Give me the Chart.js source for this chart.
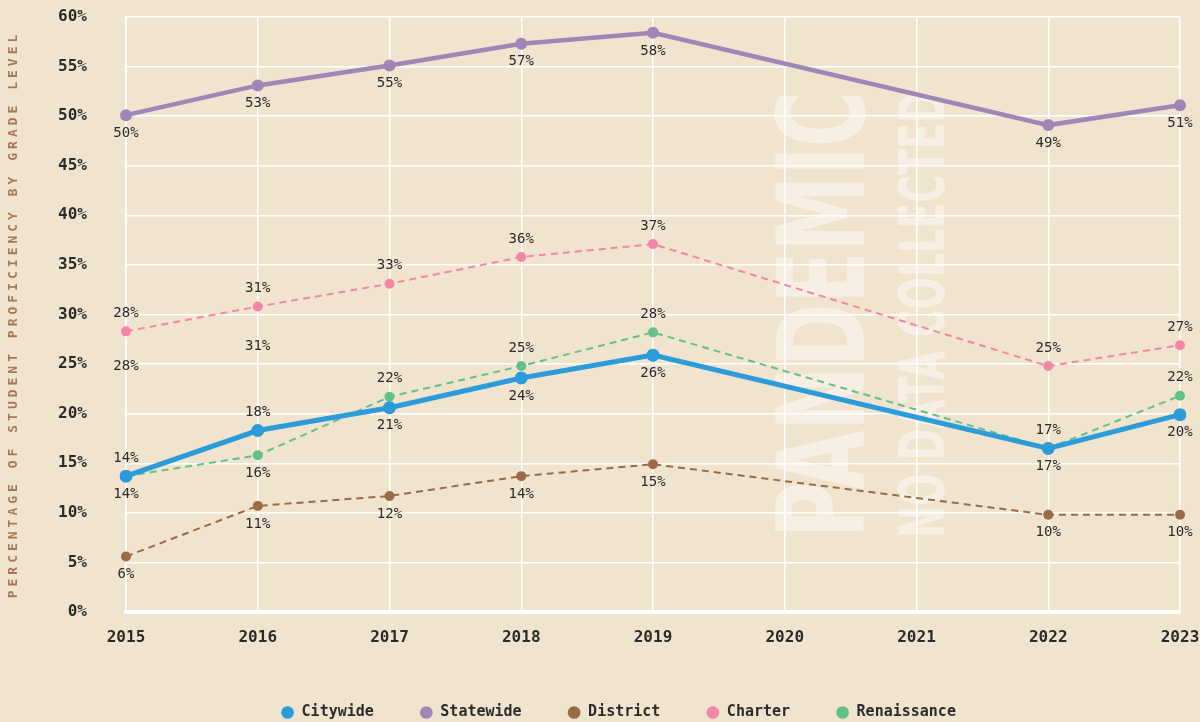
<!DOCTYPE html>
<html>
<head>
<meta charset="utf-8">
<script src="https://cdn.jsdelivr.net/npm/chart.js@4"></script>
<style>
  html, body { margin: 0; padding: 0; background: #f1e4cf; }
  #wrap { width: 1200px; height: 722px; }
</style>
</head>
<body>
<div id="wrap"><canvas id="grafico" width="1200" height="722"></canvas></div>
<script>
// anos (2020 e 2021 sem dados)
var anos = ['2015', '2016', '2017', '2018', '2019', '2020', '2021', '2022', '2023'];
var citywide    = [13.7, 18.3, 20.6, 23.6, 25.9, null, null, 16.5, 19.9];
var statewide   = [50.1, 53.1, 55.1, 57.3, 58.4, null, null, 49.1, 51.1];
var district    = [5.6, 10.7, 11.7, 13.7, 14.9, null, null, 9.8, 9.8];
var charter     = [28.3, 30.8, 33.1, 35.8, 37.1, null, null, 24.8, 26.9];
var renaissance = [13.7, 15.8, 21.7, 24.8, 28.2, null, null, 16.5, 21.8];
var yTicks = [0, 5, 10, 15, 20, 25, 30, 35, 40, 45, 50, 55, 60];

// posicao dos rotulos: 'a' acima, 'b' abaixo
var posCitywide    = ['a', 'a', 'b', 'b', 'b', '', '', 'b', 'b'];
var posStatewide   = ['b', 'b', 'b', 'b', 'b', '', '', 'b', 'b'];
var posDistrict    = ['b', 'b', 'b', 'b', 'b', '', '', 'b', 'b'];
var posCharter     = ['a', 'a', 'a', 'a', 'a', '', '', 'a', 'a'];
var posRenaissance = ['b', 'b', 'a', 'a', 'a', '', '', 'a', 'a'];
// rotulos repetidos do Charter que aparecem no original
var rotulosExtras = [{ serie: 3, idx: 0, dy: 35 }, { serie: 3, idx: 1, dy: 40 }];

var fonteMono = '"DejaVu Sans Mono", "Liberation Mono", monospace';

function serie(nome, dados, cor, largura, raio, tracejado, pos) {
    return {
        label: nome,
        data: dados,
        borderColor: cor,
        backgroundColor: cor,
        pointBackgroundColor: cor,
        pointBorderWidth: 0,
        pointRadius: raio,
        borderWidth: largura,
        borderDash: tracejado ? [7, 5] : [],
        spanGaps: true,
        tension: 0,
        fill: false,
        posRotulos: pos
    };
}

var pluginRotulos = {
    id: 'rotulos',
    afterDatasetsDraw: function(chart) {
        var ctx = chart.ctx;
        ctx.save();
        ctx.font = '14px ' + fonteMono;
        ctx.fillStyle = '#2b2b2b';
        ctx.textAlign = 'center';
        ctx.textBaseline = 'middle';
        chart.data.datasets.forEach(function(ds, i) {
            var meta = chart.getDatasetMeta(i);
            meta.data.forEach(function(pt, j) {
                var v = ds.data[j];
                if (v === null) return;
                var p = ds.posRotulos[j];
                var dy = p === 'a' ? -18 : 18;
                ctx.fillText(Math.round(v) + '%', pt.x, pt.y + dy);
            });
        });
        rotulosExtras.forEach(function(r) {
            var pt = chart.getDatasetMeta(r.serie).data[r.idx];
            var v = chart.data.datasets[r.serie].data[r.idx];
            ctx.fillText(Math.round(v) + '%', pt.x, pt.y + r.dy);
        });
        ctx.restore();
    }
};

var pluginFundo = {
    id: 'fundo',
    beforeDraw: function(chart) {
        var ctx = chart.ctx;
        ctx.save();
        ctx.fillStyle = '#f1e4cf';
        ctx.fillRect(0, 0, chart.width, chart.height);
        // titulo do eixo y com espacamento entre letras
        var area = chart.chartArea;
        ctx.translate(14, (area.top + area.bottom) / 2);
        ctx.rotate(-Math.PI / 2);
        ctx.font = 'bold 13px ' + fonteMono;
        ctx.letterSpacing = '4px';
        ctx.fillStyle = '#a67a56';
        ctx.textAlign = 'center';
        ctx.textBaseline = 'middle';
        ctx.fillText('PERCENTAGE OF STUDENT PROFICIENCY BY GRADE LEVEL', 0, 0);
        ctx.restore();
    },
    beforeDatasetsDraw: function(chart) {
        var ctx = chart.ctx;
        var x = chart.scales.x, y = chart.scales.y;
        var passo = x.getPixelForValue(6) - x.getPixelForValue(5);
        var base = y.getPixelForValue(7.5);
        var topo = y.getPixelForValue(52.5);
        var comp = base - topo;
        function escreve(txt, tam, xBase) {
            ctx.save();
            ctx.font = 'bold ' + tam + 'px "Liberation Sans Narrow", "DejaVu Sans Condensed", "Liberation Sans", sans-serif';
            var w = ctx.measureText(txt).width;
            ctx.translate(xBase, base);
            ctx.rotate(-Math.PI / 2);
            ctx.scale(comp / w, 1);
            ctx.fillStyle = 'rgba(255,255,255,0.42)';
            ctx.textAlign = 'left';
            ctx.textBaseline = 'alphabetic';
            ctx.fillText(txt, 0, 0);
            ctx.restore();
        }
        escreve('PANDEMIC', 122, x.getPixelForValue(5) + passo * 0.6);
        escreve('NO DATA COLLECTED', 62, x.getPixelForValue(6) + passo * 0.21);
    }
};

function MontaGrafico() {
    var campo = document.getElementById('grafico');
    new Chart(campo, {
        type: 'line',
        data: {
            labels: anos,
            datasets: [
                serie('Citywide', citywide, '#2b9bd9', 5, 6.5, false, posCitywide),
                serie('Statewide', statewide, '#9e86b6', 4.5, 6, false, posStatewide),
                serie('District', district, '#9b6b45', 2, 5, true, posDistrict),
                serie('Charter', charter, '#f187a6', 2, 5, true, posCharter),
                serie('Renaissance', renaissance, '#62c08b', 2, 5, true, posRenaissance)
            ]
        },
        options: {
            responsive: false,
            animation: false,
            layout: { padding: { top: 17, right: 20, left: 57, bottom: -8 } },
            scales: {
                x: {
                    offset: false,
                    grid: { color: '#ffffff', lineWidth: 1.5, drawTicks: false },
                    border: { color: '#ffffff', width: 4 },
                    afterFit: function(eixo) {
                        eixo.height = 47;
                        eixo.paddingLeft = 0;
                        eixo.paddingRight = 0;
                    },
                    ticks: {
                        color: '#2b2b2b',
                        padding: 16,
                        font: { family: fonteMono, size: 16, weight: 'bold' }
                    }
                },
                y: {
                    min: 0,
                    max: 60,
                    afterBuildTicks: function(eixo) {
                        eixo.ticks = yTicks.map(function(v) { return { value: v }; });
                    },
                    afterFit: function(eixo) {
                        eixo.width = 69;
                        eixo.paddingTop = 0;
                        eixo.paddingBottom = 0;
                    },
                    grid: { color: '#ffffff', lineWidth: 1.5, drawTicks: false },
                    border: { color: '#ffffff', width: 1.5 },
                    ticks: {
                        color: '#2b2b2b',
                        padding: 39,
                        font: { family: fonteMono, size: 16, weight: 'bold' },
                        callback: function(v) { return v + '%'; }
                    }
                }
            },
            plugins: {
                legend: {
                    position: 'bottom',
                    labels: {
                        usePointStyle: true,
                        pointStyle: 'circle',
                        boxWidth: 13,
                        boxHeight: 9,
                        padding: 46,
                        color: '#2b2b2b',
                        font: { family: fonteMono, size: 15, weight: 'bold' }
                    }
                },
                tooltip: { enabled: false }
            }
        },
        plugins: [pluginFundo, pluginRotulos]
    });
}

MontaGrafico();
</script>
</body>
</html>
